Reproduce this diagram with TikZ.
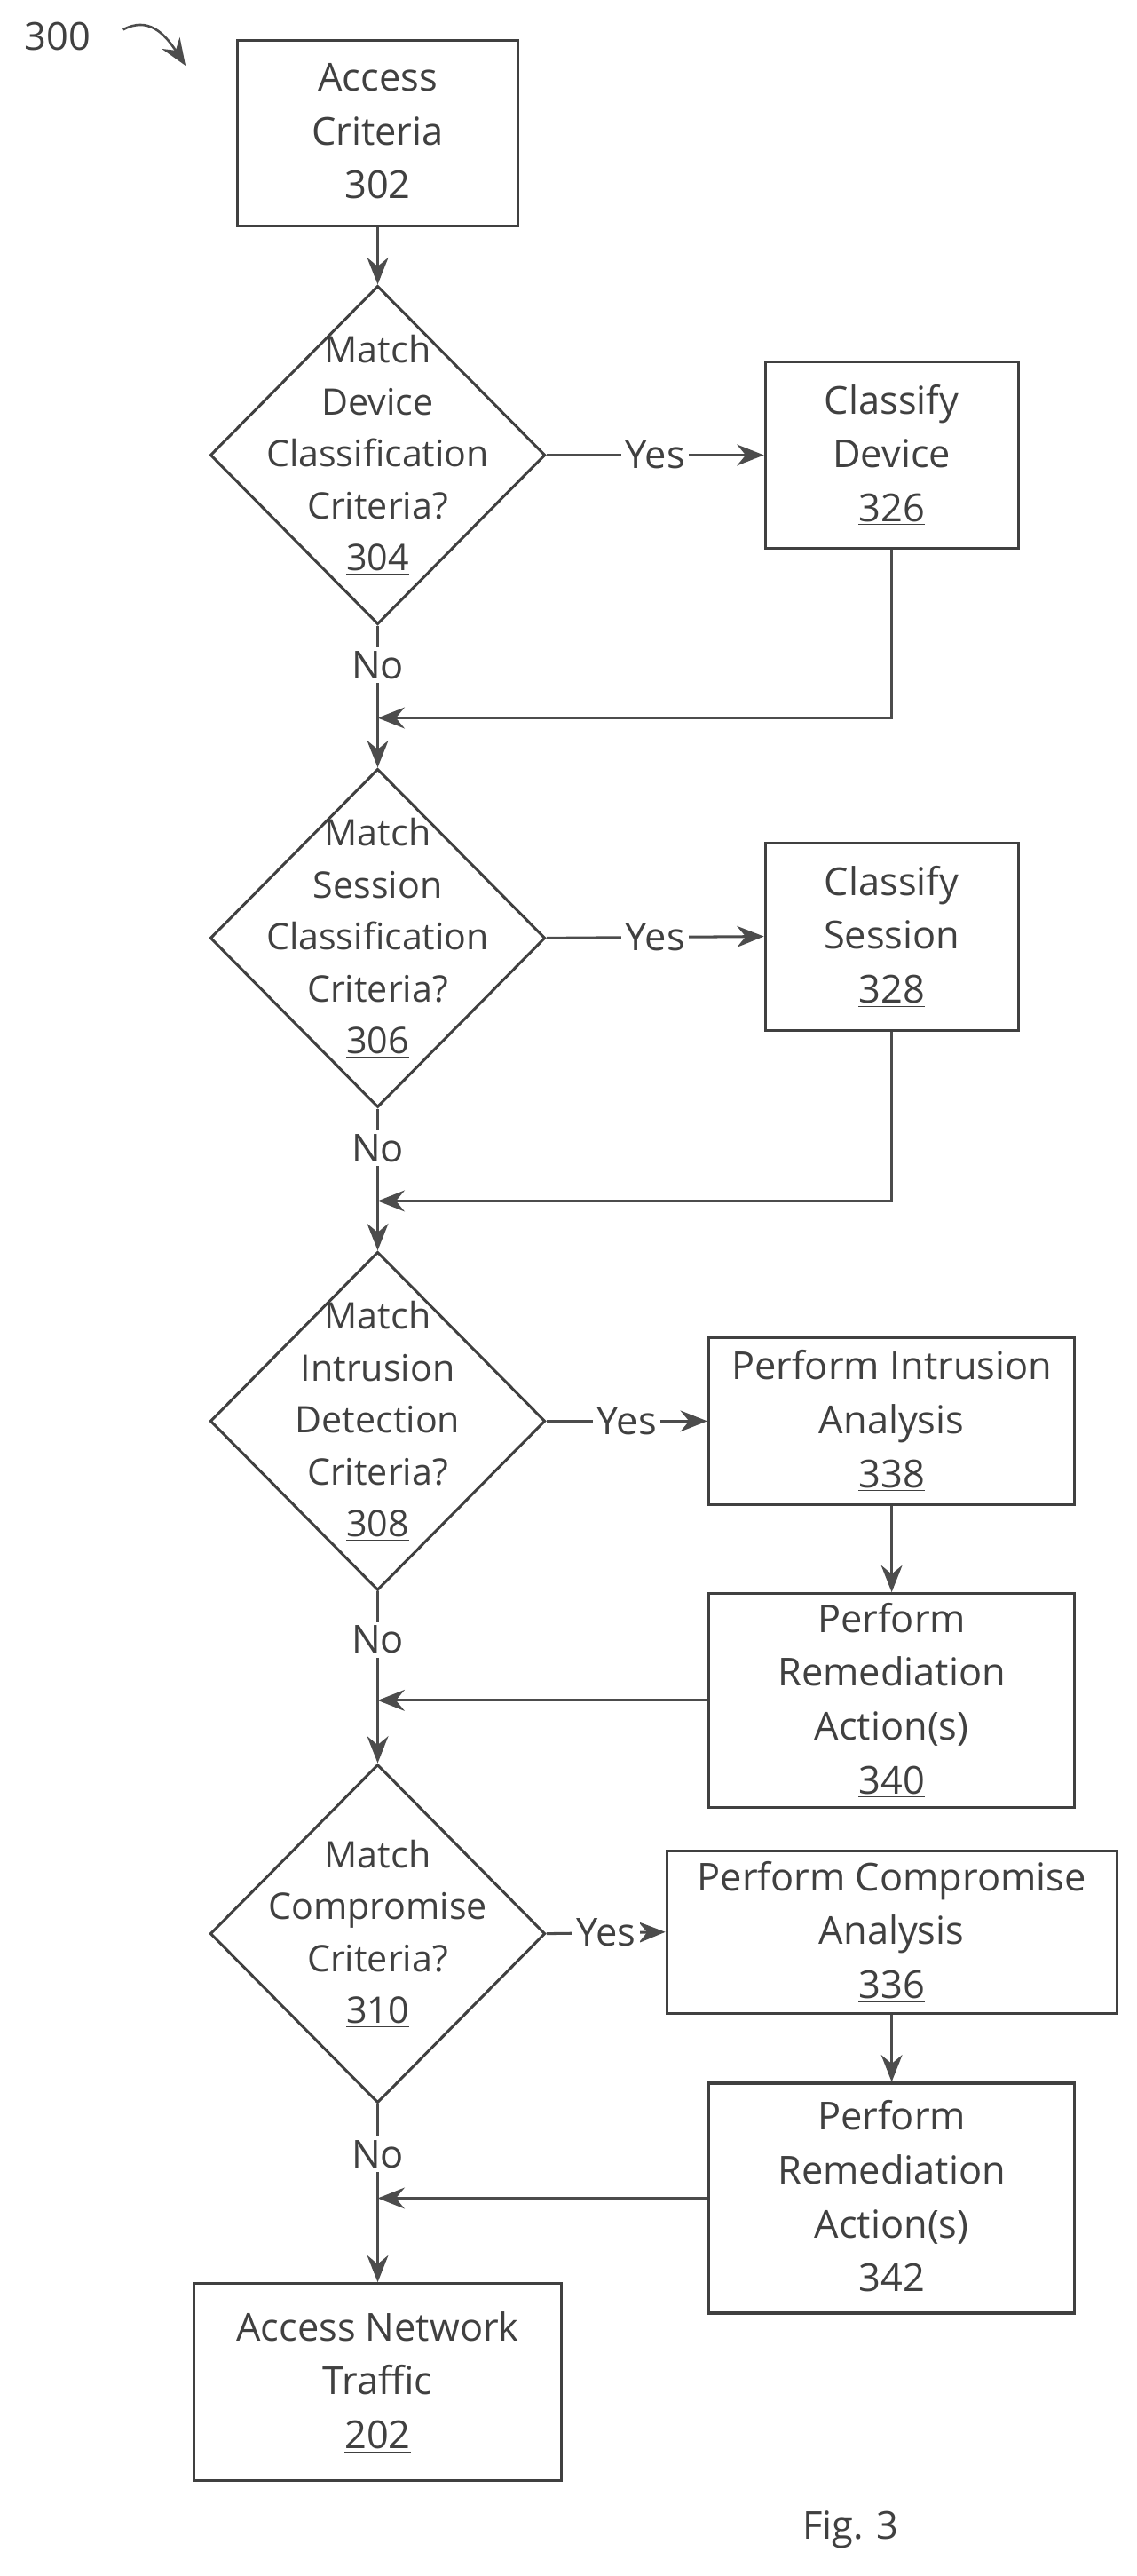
\documentclass[tikz,border=0pt]{standalone}
\usepackage{fontspec}
\setmainfont{Open Sans}
\usetikzlibrary{arrows.meta, shapes.geometric, positioning}
\tikzset{
    box/.style={draw=black!75, line width=1.4pt, align=center, inner sep=0pt},
    dec/.style={draw=black!75, line width=1.4pt, diamond, aspect=1, inner sep=0pt, minimum width=204*0.03cm, minimum height=206*0.03cm},
    dectext/.style={align=center, inner sep=0pt, font=\fontsize{19}{27}\selectfont},
    flow/.style={draw=black!70, line width=1.4pt, -{Stealth[length=14pt, width=11pt]}},
    lbl/.style={fill=white, inner sep=2pt}
}
\newcommand{\refnum}[1]{\underline{#1}}
\begin{document}
\begin{tikzpicture}[x=0.03cm, y=-0.03cm, font=\fontsize{20}{28}\selectfont, text=black!75]
    \useasboundingbox (0,0) rectangle (692,1568);
    % Figure number and pointer
    \node (fignum) at (35,22) {300};
    \draw[flow, line width=1.2pt] (75,18) .. controls (90,10) and (100,20) .. (113,40);

    % Main column
    \node[box, minimum width=171*0.03cm, minimum height=113*0.03cm] (crit) at (230,81) {Access\\Criteria\\\refnum{302}};
    \node[dec] (dev) at (230,277) {};
    \node[dectext] at (dev) {Match\\Device\\Classification\\Criteria?\\\refnum{304}};
    \node[dec] (ses) at (230,571) {};
    \node[dectext] at (ses) {Match\\Session\\Classification\\Criteria?\\\refnum{306}};
    \node[dec] (intr) at (230,865) {};
    \node[dectext] at (intr) {Match\\Intrusion\\Detection\\Criteria?\\\refnum{308}};
    \node[dec] (comp) at (230,1177) {};
    \node[dectext] at (comp) {Match\\Compromise\\Criteria?\\\refnum{310}};
    \node[box, minimum width=224*0.03cm, minimum height=120*0.03cm] (traffic) at (230,1450) {Access Network\\Traffic\\\refnum{202}};

    % Right column
    \node[box, minimum width=154*0.03cm, minimum height=113*0.03cm] (cdev) at (543,277) {Classify\\Device\\\refnum{326}};
    \node[box, minimum width=154*0.03cm, minimum height=114*0.03cm] (cses) at (543,570) {Classify\\Session\\\refnum{328}};
    \node[box, minimum width=223*0.03cm, minimum height=102*0.03cm] (ian) at (543,865) {Perform Intrusion\\Analysis\\\refnum{338}};
    \node[box, minimum width=223*0.03cm, minimum height=130*0.03cm] (irem) at (543,1035) {Perform\\Remediation\\Action(s)\\\refnum{340}};
    \node[box, minimum width=274*0.03cm, minimum height=99*0.03cm] (can) at (543,1176) {Perform Compromise\\Analysis\\\refnum{336}};
    \node[box, minimum width=223*0.03cm, minimum height=140*0.03cm] (crem) at (543,1338) {Perform\\Remediation\\Action(s)\\\refnum{342}};

    % Join points on the main column
    \coordinate (j1) at (230,437);
    \coordinate (j2) at (230,731);
    \coordinate (j3) at (230,1035);
    \coordinate (j4) at (230,1338);

    % Yes branches
    \draw[flow] (dev.east) -- node[lbl] {Yes} (cdev.west);
    \draw[flow] (ses.east) -- node[lbl] {Yes} (cses.west);
    \draw[flow] (intr.east) -- node[lbl] {Yes} (ian.west);
    \draw[flow] (comp.east) -- node[lbl] {Yes} (can.west);
    \draw[flow] (ian) -- (irem);
    \draw[flow] (can) -- (crem);

    % No branches
    \draw[flow] (crit) -- (dev);
    \draw[flow] (dev.south) -- node[lbl, pos=0.28] {No} (ses.north);
    \draw[flow] (ses.south) -- node[lbl, pos=0.28] {No} (intr.north);
    \draw[flow] (intr.south) -- node[lbl, pos=0.28] {No} (comp.north);
    \draw[flow] (comp.south) -- node[lbl, pos=0.28] {No} (traffic.north);

    % Returns
    \draw[flow] (cdev.south) |- (j1);
    \draw[flow] (cses.south) |- (j2);
    \draw[flow] (irem.west) -- (j3);
    \draw[flow] (crem.west) -- (j4);

    \node (fig) at (518,1540) {Fig. 3};
\end{tikzpicture}
\end{document}
